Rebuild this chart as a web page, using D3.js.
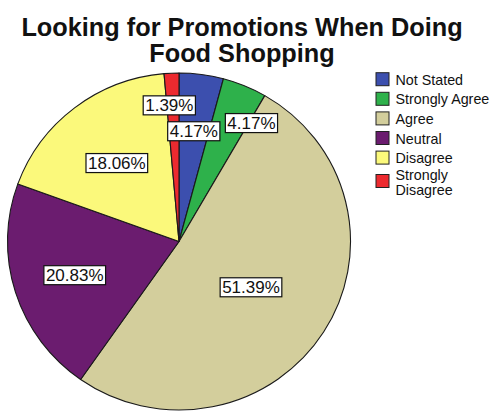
<!DOCTYPE html>
<html>
<head>
<meta charset="utf-8">
<script src="https://cdn.jsdelivr.net/npm/d3@7"></script>
<style>
  html, body { margin: 0; padding: 0; background: #ffffff; }
  svg { display: block; }
</style>
</head>
<body>
<script>
// Survey responses: share of respondents per answer
const categories = ["Not Stated", "Strongly Agree", "Agree", "Neutral", "Disagree", "Strongly Disagree"];
const percents = [4.17, 4.17, 51.39, 20.83, 18.06, 1.39];
const sliceColors = ["#3c4fae", "#2eb14b", "#d3ce9c", "#6b1c6f", "#fbf97b", "#ec2a2f"];
const titleLines = ["Looking for Promotions When Doing", "Food Shopping"];
const legendLines = [["Not Stated"], ["Strongly Agree"], ["Agree"], ["Neutral"], ["Disagree"], ["Strongly", "Disagree"]];

// Percentage box placement: fraction of the radius along the slice's mid-angle, plus a small angular nudge (degrees)
const labelRadius = [0.66, 0.82, 0.5, 0.64, 0.59, 0.81];
const labelNudge = [0, 8.5, 0.4, -0.7, -0.4, -1.5];

const W = 493, H = 411;
const cx = 179, cy = 241.5, rx = 171.5, ry = 168.5;
const font = "'Liberation Sans', Arial, Helvetica, sans-serif";

const svg = d3.select("body").append("svg")
  .attr("width", W).attr("height", H)
  .attr("viewBox", `0 0 ${W} ${H}`);

svg.append("rect").attr("width", W).attr("height", H).attr("fill", "#ffffff");

// Title
svg.append("g").selectAll("text")
  .data(titleLines)
  .join("text")
  .attr("x", 242)
  .attr("y", (d, i) => 36 + i * 25.5)
  .attr("text-anchor", "middle")
  .attr("font-family", font)
  .attr("font-weight", "bold")
  .attr("font-size", 25.3)
  .attr("fill", "#111")
  .text(d => d);

const data = categories.map((c, i) => ({ name: c, value: percents[i], color: sliceColors[i], idx: i }));

const pie = d3.pie().sort(null).value(d => d.value).startAngle(0).endAngle(2 * Math.PI);
const arcs = pie(data);
const arc = d3.arc().innerRadius(0).outerRadius(rx);

// Slices (slightly flattened vertically)
svg.append("g")
  .attr("transform", `translate(${cx},${cy}) scale(1,${ry / rx})`)
  .selectAll("path")
  .data(arcs)
  .join("path")
  .attr("d", arc)
  .attr("fill", d => d.data.color)
  .attr("stroke", "#1a1a1a")
  .attr("stroke-width", 1.1)
  .attr("stroke-linejoin", "round");

// Percentage labels in white boxes
const fmt = d3.format(".2f");
const labels = svg.append("g").selectAll("g")
  .data(arcs)
  .join("g")
  .attr("transform", d => {
    const i = d.data.idx;
    const a = (d.startAngle + d.endAngle) / 2 + labelNudge[i] * Math.PI / 180;
    const x = cx + labelRadius[i] * rx * Math.sin(a);
    const y = cy - labelRadius[i] * ry * Math.cos(a);
    return `translate(${x},${y})`;
  });

const rects = labels.append("rect")
  .attr("fill", "#ffffff")
  .attr("stroke", "#111")
  .attr("stroke-width", 1.2);

const txt = labels.append("text")
  .attr("text-anchor", "middle")
  .attr("y", 6)
  .attr("font-family", font)
  .attr("font-size", 17)
  .attr("fill", "#111")
  .text(d => fmt(d.data.value) + "%");

txt.each(function(d) {
  const w = this.getComputedTextLength();
  d3.select(this.parentNode).select("rect")
    .attr("x", -w / 2 - 2)
    .attr("y", -9.5)
    .attr("width", w + 4)
    .attr("height", 19);
});

// Legend
const rowY = [79.2, 98.8, 118.4, 138, 157.6, 181];
const legend = svg.append("g").selectAll("g")
  .data(data)
  .join("g")
  .attr("transform", (d, i) => `translate(376,${rowY[i]})`);

legend.append("rect")
  .attr("x", 0).attr("y", -6.5)
  .attr("width", 13).attr("height", 13)
  .attr("fill", d => d.color)
  .attr("stroke", "#222")
  .attr("stroke-width", 1);

legend.each(function(d, i) {
  const lines = legendLines[i];
  const g = d3.select(this);
  const startY = lines.length === 1 ? 5.5 : -1;
  g.selectAll("text")
    .data(lines)
    .join("text")
    .attr("x", 19.5)
    .attr("y", (t, j) => startY + j * 15)
    .attr("font-family", font)
    .attr("font-size", 14.3)
    .attr("fill", "#111")
    .text(t => t);
});
</script>
</body>
</html>
